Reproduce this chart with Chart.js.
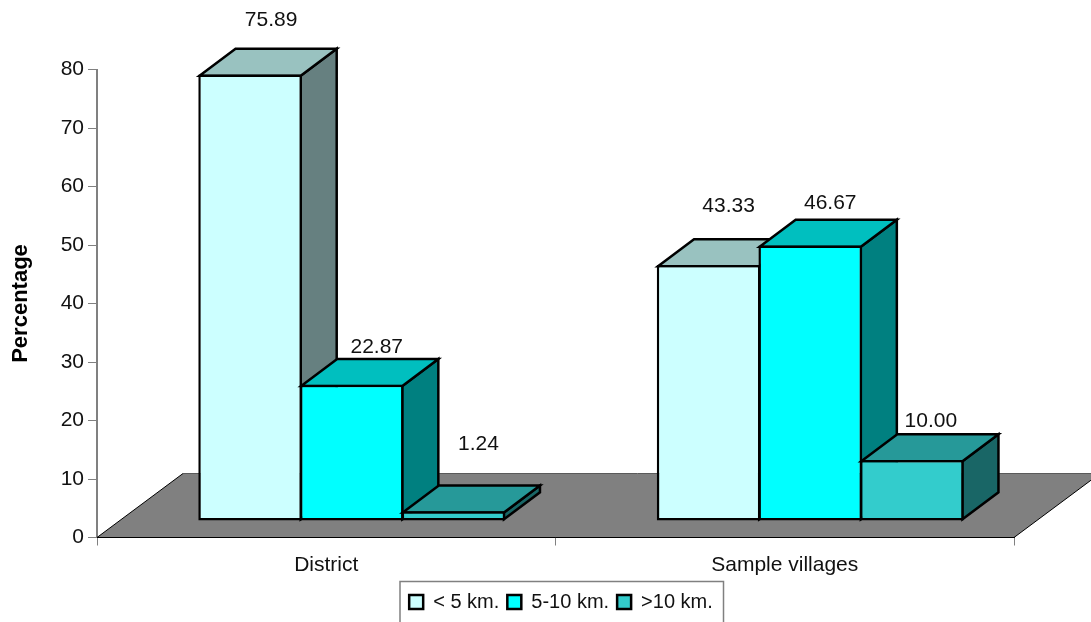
<!DOCTYPE html>
<html>
<head>
<meta charset="utf-8">
<title>Percentage by distance</title>
<script src="https://cdn.jsdelivr.net/npm/chart.js@4"></script>
<style>
  html, body { margin: 0; padding: 0; background: #fff; }
  canvas { display: block; }
</style>
</head>
<body>
<canvas id="distanceChart" width="1091" height="622"></canvas>
<script>
const categories = ['District', 'Sample villages'];
const under5km = [75.89, 43.33];
const from5to10km = [22.87, 46.67];
const over10km = [1.24, 10.00];

// face colours of each bar series: front, top, side
const faces = [
  ['#ccffff', '#99c2c0', '#668080'],
  ['#00ffff', '#00bfbf', '#008080'],
  ['#33cccc', '#269999', '#196666']
];

const FONT = '"Liberation Sans", Arial, sans-serif';
const DEPTH_X = 36, DEPTH_Y = 27;       // depth of the bars
const SHIFT_X = 25.5, SHIFT_Y = -19;    // bars stand inside the floor
const FLOOR_X = 86, FLOOR_Y = 64;       // depth of the floor
const EDGE = 2.5;

// value label position relative to the top centre of each bar's front [dx, dy]
const labelOffsets = [
  [[21, -55], [20, -60]],
  [[25, -39], [20, -43]],
  [[25, -68], [19, -40]]
];

function poly(ctx, pts, fill, stroke, lw) {
  ctx.beginPath();
  pts.forEach((p, i) => i ? ctx.lineTo(p[0], p[1]) : ctx.moveTo(p[0], p[1]));
  ctx.closePath();
  if (fill) { ctx.fillStyle = fill; ctx.fill(); }
  if (stroke) { ctx.strokeStyle = stroke; ctx.lineWidth = lw; ctx.lineJoin = 'miter'; ctx.stroke(); }
}

const bars3d = {
  id: 'bars3d',
  afterLayout(chart) {
    // legend sits in its own box, a bit right of the centre
    const lg = chart.legend;
    const w = lg.right - lg.left;
    lg.left = 561 - w / 2;
    lg.right = lg.left + w;
  },
  beforeDraw(chart) {
    const ctx = chart.ctx;
    ctx.save();
    ctx.strokeStyle = '#808080';
    ctx.lineWidth = 1.5;
    ctx.strokeRect(400, 581.5, 323.5, 60);
    ctx.restore();
  },
  beforeDatasetsDraw(chart) {
    const ctx = chart.ctx;
    const a = chart.chartArea;

    // floor
    ctx.save();
    poly(ctx, [[a.left, a.bottom], [a.left + FLOOR_X, a.bottom - FLOOR_Y],
               [a.right + FLOOR_X, a.bottom - FLOOR_Y], [a.right, a.bottom]], '#808080');
    ctx.lineWidth = 1;
    ctx.strokeStyle = '#000';
    ctx.beginPath();
    ctx.moveTo(a.right + FLOOR_X, a.bottom - FLOOR_Y);
    ctx.lineTo(a.right, a.bottom);
    ctx.lineTo(a.left, a.bottom);
    ctx.lineTo(a.left + FLOOR_X, a.bottom - FLOOR_Y);
    ctx.stroke();
    ctx.strokeStyle = '#5a5a5a';
    ctx.beginPath();
    ctx.moveTo(a.left + FLOOR_X, a.bottom - FLOOR_Y);
    ctx.lineTo(a.right + FLOOR_X, a.bottom - FLOOR_Y);
    ctx.stroke();
    ctx.restore();

    // bars, left to right, so that later ones cover the sides of earlier ones
    ctx.save();
    ctx.translate(SHIFT_X, SHIFT_Y);
    for (let c = 0; c < categories.length; c++) {
      chart.data.datasets.forEach((ds, d) => {
        const el = chart.getDatasetMeta(d).data[c];
        const inset = EDGE / 2;
        const l = el.x - el.width / 2 + inset, r = el.x + el.width / 2 - inset;
        const t = el.y + inset, b = el.base - inset;
        const dx = DEPTH_X, dy = DEPTH_Y;
        poly(ctx, [[r, t], [r + dx, t - dy], [r + dx, b - dy], [r, b]], faces[d][2], '#000', EDGE);
        poly(ctx, [[l, t], [l + dx, t - dy], [r + dx, t - dy], [r, t]], faces[d][1], '#000', EDGE);
        el.draw(ctx);
      });
    }
    ctx.restore();

    // value labels
    ctx.save();
    ctx.font = '21px ' + FONT;
    ctx.fillStyle = '#111';
    ctx.textAlign = 'center';
    ctx.textBaseline = 'middle';
    chart.data.datasets.forEach((ds, d) => {
      chart.getDatasetMeta(d).data.forEach((el, c) => {
        const off = labelOffsets[d][c];
        ctx.fillText(ds.data[c].toFixed(2), el.x + SHIFT_X + off[0], el.y + SHIFT_Y + off[1] + 1);
      });
    });
    ctx.restore();
    return false;
  }
};

function series(label, data, i) {
  return {
    label: label,
    data: data,
    base: -0.35,
    backgroundColor: faces[i][0],
    borderColor: '#000',
    borderWidth: EDGE,
    borderSkipped: false,
    categoryPercentage: 0.665,
    barPercentage: 1.02
  };
}

new Chart(document.getElementById('distanceChart').getContext('2d'), {
  type: 'bar',
  data: {
    labels: categories,
    datasets: [
      series('< 5 km.', under5km, 0),
      series('5-10 km.', from5to10km, 1),
      series('>10 km.', over10km, 2)
    ]
  },
  options: {
    responsive: false,
    animation: false,
    layout: { padding: { top: 69.5, right: 77, bottom: 0, left: 0 } },
    plugins: {
      tooltip: { enabled: false },
      legend: {
        position: 'bottom',
        labels: {
          boxWidth: 14,
          boxHeight: 14,
          padding: 8,
          color: '#111',
          font: { family: FONT, size: 20 }
        }
      }
    },
    scales: {
      x: {
        afterFit(s) { s.height = 46.5; },
        border: { color: '#000', width: 1 },
        grid: { drawOnChartArea: false, drawTicks: true, tickLength: 8, color: '#808080' },
        ticks: { color: '#111', padding: 7, font: { family: FONT, size: 21 } }
      },
      y: {
        min: 0,
        max: 80,
        afterFit(s) { s.width = 97; },
        border: { color: '#808080', width: 2 },
        grid: { drawOnChartArea: false, drawTicks: true, tickLength: 9, color: '#808080' },
        ticks: { stepSize: 10, color: '#111', padding: 4, font: { family: FONT, size: 21 } },
        title: {
          display: true,
          text: 'Percentage',
          color: '#000',
          padding: { top: 8, bottom: 0 },
          font: { family: FONT, size: 22, weight: 'bold' }
        }
      }
    }
  },
  plugins: [bars3d]
});
</script>
</body>
</html>
